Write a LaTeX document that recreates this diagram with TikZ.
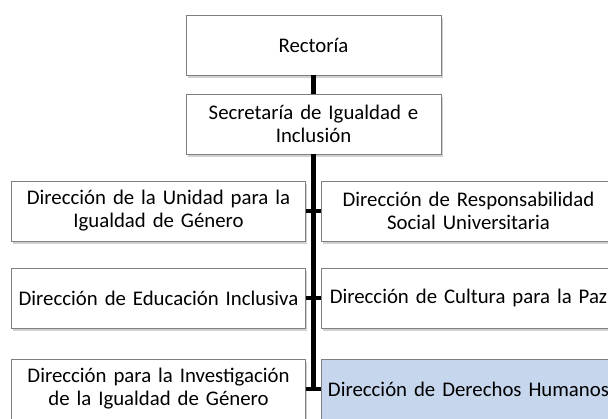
\documentclass[tikz,border=0pt]{standalone}
\usepackage{fontspec}
\setmainfont{Carlito}
\usetikzlibrary{positioning, shadows}

\definecolor{boxline}{HTML}{7F7F7F}
\definecolor{boxblue}{HTML}{C6D6EC}

\tikzset{
  orgbox/.style={draw=boxline, line width=0.9pt, fill=white, align=center,
    font=\fontsize{20.8}{23}\selectfont, inner sep=2pt,
    drop shadow={shadow xshift=1.5pt, shadow yshift=-2.5pt, opacity=0.3, fill=black!60}},
  topbox/.style={orgbox, minimum width=255pt, minimum height=60pt, text width=250pt},
  dirbox/.style={orgbox, minimum width=291pt, minimum height=60pt, text width=290pt},
  link/.style={line width=4.5pt, black}
}

\begin{document}
\begin{tikzpicture}[x=1pt, y=-1pt]
  \useasboundingbox (0,0) rectangle (608,418);
  % --- Top levels ---
  \node[topbox] (rect) at (313.5,45) {Rectoría};
  \node[topbox] (secr) at (313.5,124) {Secretaría de Igualdad e\\Inclusión};
  % --- Left column ---
  \node[dirbox] (dug) at (158.5,211) {Dirección de la Unidad para la\\Igualdad de Género};
  \node[dirbox] (dei) at (158.5,298) {Dirección de Educación Inclusiva};
  \node[dirbox] (dig) at (158.5,389) {Dirección para la Investigación\\de la Igualdad de Género};
  % --- Right column ---
  \node[dirbox] (drs) at (468.5,211) {Dirección de Responsabilidad\\Social Universitaria};
  \node[dirbox] (dcp) at (468.5,298) {Dirección de Cultura para la Paz};
  \node[dirbox, fill=boxblue] (ddh) at (468.5,389) {Dirección de Derechos Humanos};
  % --- Connectors ---
  \draw[link] (rect.south) -- (secr.north);
  \draw[link] (secr.south) -- (secr.south |- ddh.west);
  \draw[link] (dug.east) -- (drs.west);
  \draw[link] (dei.east) -- (dcp.west);
  \draw[link] (dig.east) -- (ddh.west);
\end{tikzpicture}
\end{document}
